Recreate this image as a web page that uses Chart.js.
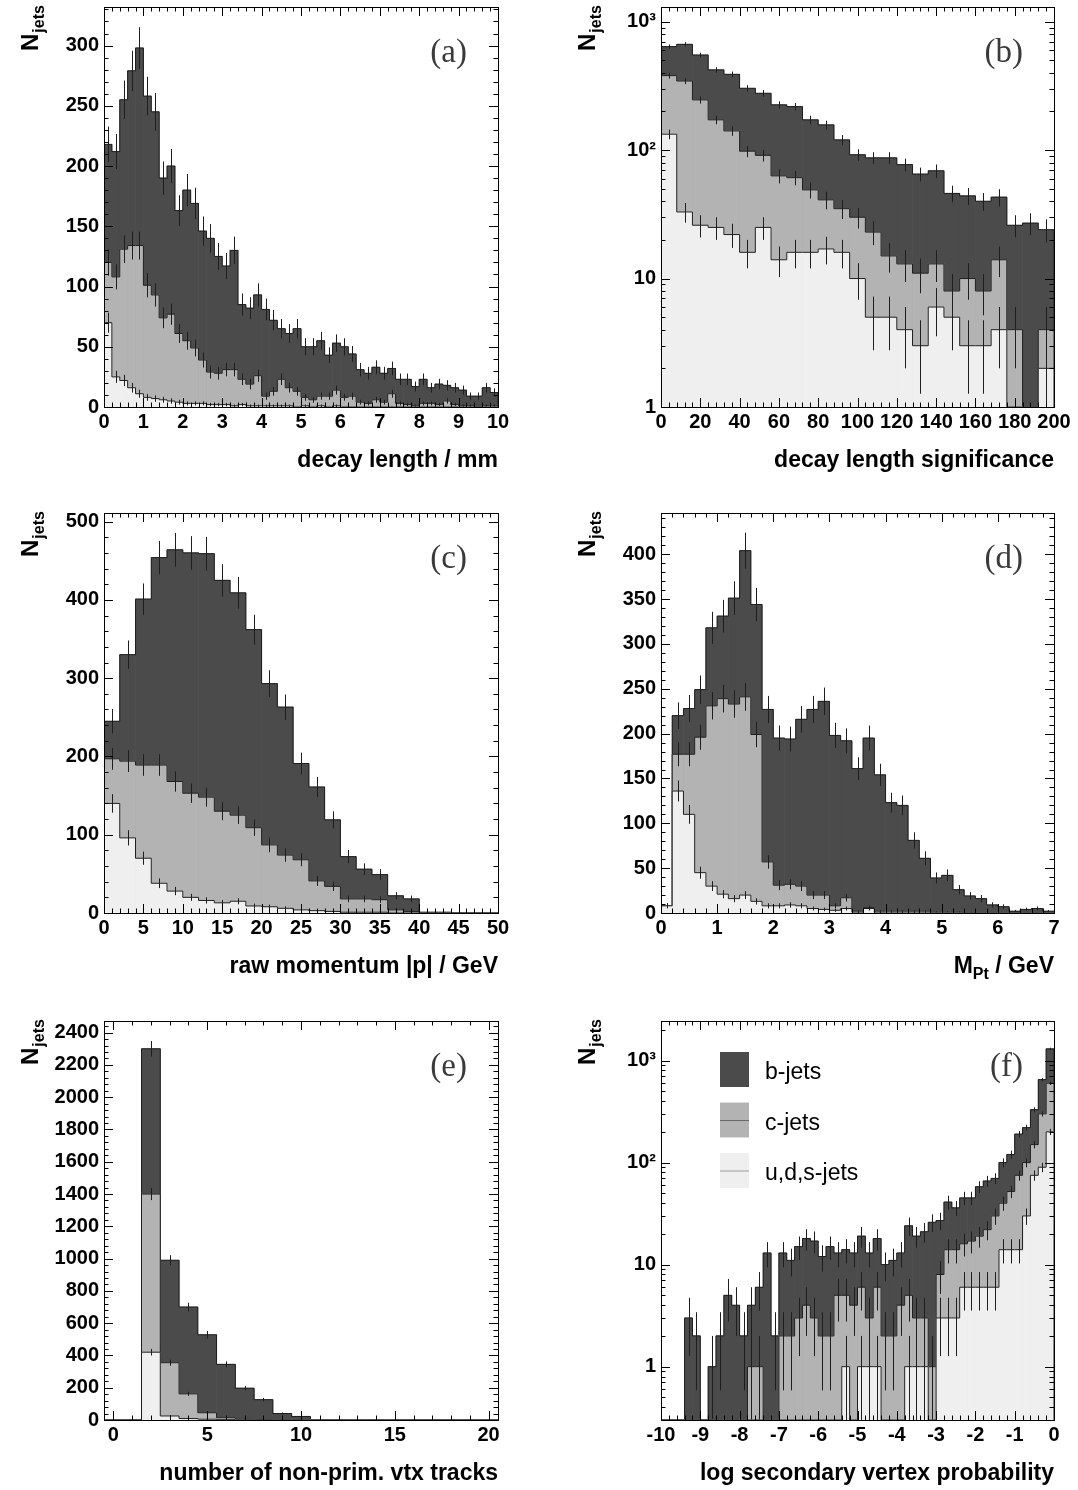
<!DOCTYPE html>
<html>
<head>
<meta charset="utf-8">
<script src="https://cdn.jsdelivr.net/npm/chart.js@4.4.1/dist/chart.umd.min.js"></script>
<style>
  html, body { margin: 0; padding: 0; background: #fff; }
  body { width: 1078px; height: 1490px; position: relative; overflow: hidden; }
  canvas { position: absolute; }
</style>
</head>
<body>
<canvas id="pa"></canvas>
<canvas id="pb"></canvas>
<canvas id="pc"></canvas>
<canvas id="pd"></canvas>
<canvas id="pe"></canvas>
<canvas id="pf"></canvas>
<script>
// ---- data: upper edge of each stacked layer (u,d,s | +c | +b = all jets) ----

// (a) decay length / mm, 50 bins of 0.2 from 0
const aBinLo = 0, aBinW = 0.2;
const aAll = [218,212,255,279,298,258,245,190,200,163, 180,169,146,140,125,117,130,85,82,93,
              81,72,65,61,65,50,50,55,43,53, 50,44,31,28,33,28,32,23,23,17,
              23,16,19,18,16,14,9,9,16,12];
const aC   = [120,108,131,134,134,101,93,74,77,61, 55,49,39,29,28,31,31,23,19,26,
              9,13,23,16,13,8,6,9,9,14, 8,9,4,3,6,4,11,3,2,1,
              3,3,2,5,2,1,1,0,1,1];
const aUds = [70,25,22,16,11,8,7,6,5,4, 3,3,3,2,2,2,1,2,1,1,
              1,1,1,1,0,1,0,1,0,1, 0,0,0,0,0,0,0,0,0,0,
              0,0,0,0,0,0,0,0,0,0];
const aTicksX = [0,1,2,3,4,5,6,7,8,9,10];
const aTicksY = [0,50,100,150,200,250,300];

// (b) decay length significance, 25 bins of 8 from 0
const bBinLo = 0, bBinW = 8;
const bAll = [639,666,550,421,389,303,277,225,218,172,157,120,92,87,87,77,65,69,46,44,40,43,26,27,24];
const bC   = [380,345,246,172,141,98,91,63,61,49,41,35,30,23,15,13,11,13,8,10,8,14,4,0,4];
const bUds = [133,33,26,25,22,16,25,14,16,16,17,16,10,5,5,4,3,6,5,3,3,4,0,0,2];
const bTicksX = [0,20,40,60,80,100,120,140,160,180,200];
const bTicksY = [1,10,100,1000];
const bTickLabelsY = ['1','10','10\u00b2','10\u00b3'];

// (c) raw momentum |p| / GeV, 25 bins of 2 from 0
const cBinLo = 0, cBinW = 2;
const cAll = [245,330,401,454,464,460,459,425,409,362,293,263,191,161,119,72,56,49,22,18,1,1,0,0,0];
const cC   = [197,194,189,189,168,153,148,130,125,109,87,74,68,41,34,18,18,17,4,2,0,0,0,0,0];
const cUds = [140,96,70,38,28,20,16,13,15,9,8,6,4,3,2,1,1,1,0,0,0,0,0,0,0];
const cTicksX = [0,5,10,15,20,25,30,35,40,45,50];
const cTicksY = [0,100,200,300,400,500];

// (d) M_Pt / GeV, 35 bins of 0.2 from 0
const dBinLo = 0, dBinW = 0.2;
const dAll = [8,220,228,249,318,331,351,404,344,227,195,194,216,227,236,198,192,161,195,154,
              123,120,81,61,39,42,26,19,16,9,7,2,4,5,2];
const dC   = [8,177,177,196,231,239,233,241,199,57,31,32,30,20,20,8,17,2,6,2,
              2,2,2,2,1,1,1,0,0,0,0,0,0,0,0];
const dUds = [8,136,110,45,30,21,16,20,13,8,8,9,8,5,4,3,5,1,5,1,
              1,1,1,1,0,0,0,0,0,0,0,0,0,0,0];
const dTicksX = [0,1,2,3,4,5,6,7];
const dTicksY = [0,50,100,150,200,250,300,350,400];

// (e) number of non-prim. vtx tracks, 21 bins of 1 from -0.5
const eBinLo = -0.5, eBinW = 1;
const eAll = [0,0,2300,990,700,528,345,197,126,40,22,0,0,0,0,0,0,0,0,0,0];
const eC   = [0,0,1400,355,162,45,14,6,3,1,1,0,0,0,0,0,0,0,0,0,0];
const eUds = [0,0,420,25,9,5,2,1,0,0,0,0,0,0,0,0,0,0,0,0,0];
const eTicksX = [0,5,10,15,20];
const eTicksY = [0,200,400,600,800,1000,1200,1400,1600,1800,2000,2200,2400];

// (f) log secondary vertex probability, 50 bins of 0.2 from -10
const fBinLo = -10, fBinW = 0.2;
const fAll = [0,0,0,3,2,0,1,2,5,4, 2,4,6,13,2,13,11,15,18,17,
              12,15,13,14,13,19,13,18,10,11, 13,24,19,21,26,27,41,36,45,45,
              58,66,70,100,120,190,220,330,650,1300];
const fC   = [0,0,0,0,0,0,0,0,0,0, 0,1,1,0,0,2,2,3,4,3,
              2,2,5,5,4,6,3,6,2,2, 4,5,3,3,1,8,14,14,16,17,
              19,22,30,40,52,75,100,150,300,600];
const fUds = [0,0,0,0,0,0,0,0,0,0, 0,0,0,0,0,0,0,0,0,0,
              0,0,0,1,0,1,1,1,0,0, 0,1,1,1,0,3,3,3,6,6,
              6,6,6,14,14,14,30,75,90,200];
const fTicksX = [-10,-9,-8,-7,-6,-5,-4,-3,-2,-1,0];
const fTicksY = [1,10,100,1000];
const fTickLabelsY = ['1','10','10\u00b2','10\u00b3'];

const seriesNames = ['u,d,s-jets', 'c-jets', 'b-jets'];

// ---- style ----
const SANS = "'Liberation Sans', Arial, Helvetica, sans-serif";
const SERIF = "'Liberation Serif', 'Times New Roman', serif";
const FILL = ['#efefef', '#b3b3b3', '#4b4b4b'];
const INK = '#1e1e1e';

function rootPlugin(cfg) {
  return {
    id: 'root_' + cfg.id,
    afterDatasetDraw(chart, args) {
      const {ctx, chartArea: ca, scales: {x, y}} = chart;
      const vals = cfg.layers[args.index];
      const px = v => x.getPixelForValue(v);
      const py = v => (v > 0 ? y.getPixelForValue(v) : ca.bottom);
      ctx.save();
      ctx.beginPath();
      ctx.rect(ca.left, ca.top, ca.right - ca.left, ca.bottom - ca.top);
      ctx.clip();
      ctx.strokeStyle = INK;
      ctx.lineWidth = 1;
      // step outline
      ctx.beginPath();
      ctx.moveTo(px(cfg.lo), ca.bottom);
      vals.forEach((v, i) => {
        ctx.lineTo(px(cfg.lo + i * cfg.bw), py(v));
        ctx.lineTo(px(cfg.lo + (i + 1) * cfg.bw), py(v));
      });
      ctx.lineTo(px(cfg.lo + vals.length * cfg.bw), ca.bottom);
      ctx.stroke();
      // statistical error bars
      ctx.beginPath();
      vals.forEach((v, i) => {
        if (v <= 0) return;
        const e = Math.sqrt(v);
        const xc = Math.round(px(cfg.lo + (i + 0.5) * cfg.bw)) + 0.5;
        const lo = v - e;
        ctx.moveTo(xc, y.getPixelForValue(v + e));
        ctx.lineTo(xc, lo > y.min ? y.getPixelForValue(lo) : ca.bottom);
      });
      ctx.stroke();
      ctx.restore();
    },
    afterDraw(chart) {
      const {ctx, chartArea: ca, scales: {x, y}} = chart;
      ctx.save();
      ctx.strokeStyle = '#000';
      ctx.lineWidth = 1;
      ctx.beginPath();
      // x ticks, bottom and top, pointing inwards
      for (let k = Math.ceil(x.min / cfg.xMinor - 1e-6); k * cfg.xMinor <= x.max + 1e-6; k++) {
        const v = k * cfg.xMinor;
        const q = v / cfg.xMajor;
        const len = Math.abs(q - Math.round(q)) < 1e-6 ? 9 : 4.5;
        const p = Math.round(x.getPixelForValue(v)) + 0.5;
        ctx.moveTo(p, ca.bottom); ctx.lineTo(p, ca.bottom - len);
        ctx.moveTo(p, ca.top); ctx.lineTo(p, ca.top + len);
      }
      // y ticks, left and right
      const yt = [];
      if (cfg.log) {
        for (let d = Math.floor(Math.log10(y.min)); d <= Math.ceil(Math.log10(y.max)); d++) {
          for (let m = 1; m <= 9; m++) {
            const v = m * Math.pow(10, d);
            if (v >= y.min * 0.999 && v <= y.max) yt.push([v, m === 1 ? 9 : 4.5]);
          }
        }
      } else {
        for (let k = 0; k * cfg.yMinor <= y.max + 1e-6; k++) {
          const v = k * cfg.yMinor;
          const q = v / cfg.yMajor;
          yt.push([v, Math.abs(q - Math.round(q)) < 1e-6 ? 9 : 4.5]);
        }
      }
      yt.forEach(([v, len]) => {
        const p = Math.round(y.getPixelForValue(v)) + 0.5;
        ctx.moveTo(ca.left, p); ctx.lineTo(ca.left + len, p);
        ctx.moveTo(ca.right, p); ctx.lineTo(ca.right - len, p);
      });
      ctx.stroke();
      // frame
      ctx.strokeRect(Math.round(ca.left) + 0.5, Math.round(ca.top) + 0.5,
                     Math.round(ca.right - ca.left), Math.round(ca.bottom - ca.top));

      // panel letter
      ctx.fillStyle = '#3a3a3a';
      ctx.font = `33px ${SERIF}`;
      ctx.textAlign = 'right';
      ctx.textBaseline = 'alphabetic';
      ctx.fillText(cfg.tag, ca.right - 31, ca.top + 55);

      // x title, right aligned at frame edge
      ctx.fillStyle = '#000';
      const segFont = s => (s ? `bold 16px ${SANS}` : `bold 23px ${SANS}`);
      let w = 0;
      cfg.xTitle.forEach(([t, s]) => { ctx.font = segFont(s); w += ctx.measureText(t).width; });
      let cx = ca.right - w;
      ctx.textAlign = 'left';
      cfg.xTitle.forEach(([t, s]) => {
        ctx.font = segFont(s);
        ctx.fillText(t, cx, ca.bottom + 60 + (s ? 6 : 0));
        cx += ctx.measureText(t).width;
      });

      // y title N_jets
      ctx.save();
      ctx.translate(ca.left - 66, ca.top + 44);
      ctx.rotate(-Math.PI / 2);
      ctx.font = `bold 24px ${SANS}`;
      ctx.fillText('N', 0, 0);
      const nw = ctx.measureText('N').width;
      ctx.font = `bold 16px ${SANS}`;
      ctx.fillText('jets', nw + 1, 6);
      ctx.restore();

      // legend
      if (cfg.legend) {
        const lineCol = [null, '#6a6a6a', '#9a9a9a'];
        [2, 1, 0].forEach((ds, k) => {
          const bx = ca.left + 59, by = ca.top + 31 + k * 50.5;
          ctx.fillStyle = FILL[ds];
          ctx.fillRect(bx, by, 29, 35);
          if (lineCol[k]) {
            ctx.strokeStyle = lineCol[k];
            ctx.beginPath();
            ctx.moveTo(bx, by + 18); ctx.lineTo(bx + 29, by + 18);
            ctx.stroke();
          }
          ctx.fillStyle = '#000';
          ctx.font = `23px ${SANS}`;
          ctx.fillText(seriesNames[ds], ca.left + 104, by + 27);
        });
      }
      ctx.restore();
    }
  };
}

function makePanel(cfg) {
  const cv = document.getElementById(cfg.id);
  cv.width = cfg.w; cv.height = cfg.h;
  cv.style.left = cfg.left + 'px'; cv.style.top = cfg.top + 'px';
  cv.style.width = cfg.w + 'px'; cv.style.height = cfg.h + 'px';
  const [L, T, R, B] = cfg.frame;
  const pts = arr => arr.map((v, i) => ({x: cfg.lo + (i + 0.5) * cfg.bw, y: v}));
  const tickFont = {family: SANS, size: 20, weight: 'bold', lineHeight: 1};

  new Chart(cv, {
    type: 'bar',
    data: {
      datasets: cfg.layers.map((arr, k) => ({
        label: seriesNames[k],
        data: pts(arr),
        backgroundColor: FILL[k],
        borderWidth: 0,
        grouped: false,
        barPercentage: 1,
        categoryPercentage: 1
      }))
    },
    options: {
      responsive: false,
      animation: false,
      devicePixelRatio: 1,
      events: [],
      layout: {padding: {left: 0, top: T, right: cfg.w - R, bottom: cfg.h - B - 40}},
      plugins: {legend: {display: false}, tooltip: {enabled: false}},
      scales: {
        x: {
          type: 'linear', min: cfg.xMin, max: cfg.xMax, offset: false,
          grid: {display: false, drawTicks: false}, border: {display: false},
          afterBuildTicks: s => { s.ticks = cfg.xTicks.map(v => ({value: v})); },
          afterFit: s => { s.height = 40; s.paddingLeft = 0; s.paddingRight = 0; },
          ticks: {autoSkip: false, maxRotation: 0, minRotation: 0, padding: 5,
                  color: '#000', font: tickFont, callback: v => String(v)}
        },
        y: {
          type: cfg.log ? 'logarithmic' : 'linear', min: cfg.yMin, max: cfg.yMax,
          grid: {display: false, drawTicks: false}, border: {display: false},
          afterBuildTicks: s => { s.ticks = cfg.yTicks.map(v => ({value: v})); },
          afterFit: s => { s.width = L; s.paddingTop = 0; s.paddingBottom = 0; },
          ticks: {autoSkip: false, padding: 5, color: '#000', font: tickFont,
                  callback: (v, i) => (cfg.yLabels ? cfg.yLabels[i] : String(v))}
        }
      }
    },
    plugins: [rootPlugin(cfg)]
  });
}

makePanel({id: 'pa', tag: '(a)', left: 0, top: 0, w: 540, h: 500, frame: [104, 7, 498, 407],
  lo: aBinLo, bw: aBinW, layers: [aUds, aC, aAll], xMin: 0, xMax: 10, xTicks: aTicksX, xMajor: 1, xMinor: 0.2,
  yMin: 0, yMax: 332, yTicks: aTicksY, yMajor: 50, yMinor: 10,
  xTitle: [['decay length / mm', 0]]});

makePanel({id: 'pb', tag: '(b)', left: 540, top: 0, w: 538, h: 500, frame: [121, 7, 514, 407],
  lo: bBinLo, bw: bBinW, layers: [bUds, bC, bAll], xMin: 0, xMax: 200, xTicks: bTicksX, xMajor: 20, xMinor: 4,
  log: true, yMin: 1, yMax: 1300, yTicks: bTicksY, yLabels: bTickLabelsY,
  xTitle: [['decay length significance', 0]]});

makePanel({id: 'pc', tag: '(c)', left: 0, top: 500, w: 540, h: 500, frame: [104, 13, 498, 413],
  lo: cBinLo, bw: cBinW, layers: [cUds, cC, cAll], xMin: 0, xMax: 50, xTicks: cTicksX, xMajor: 5, xMinor: 1,
  yMin: 0, yMax: 511, yTicks: cTicksY, yMajor: 100, yMinor: 20,
  xTitle: [['raw momentum |p| / GeV', 0]]});

makePanel({id: 'pd', tag: '(d)', left: 540, top: 500, w: 538, h: 500, frame: [121, 13, 514, 413],
  lo: dBinLo, bw: dBinW, layers: [dUds, dC, dAll], xMin: 0, xMax: 7, xTicks: dTicksX, xMajor: 1, xMinor: 0.2,
  yMin: 0, yMax: 446, yTicks: dTicksY, yMajor: 50, yMinor: 10,
  xTitle: [['M', 0], ['Pt', 1], [' / GeV', 0]]});

makePanel({id: 'pe', tag: '(e)', left: 0, top: 1000, w: 540, h: 490, frame: [104, 21, 498, 420],
  lo: eBinLo, bw: eBinW, layers: [eUds, eC, eAll], xMin: -0.5, xMax: 20.5, xTicks: eTicksX, xMajor: 5, xMinor: 1,
  yMin: 0, yMax: 2472, yTicks: eTicksY, yMajor: 200, yMinor: 40,
  xTitle: [['number of non-prim. vtx tracks', 0]]});

makePanel({id: 'pf', tag: '(f)', left: 540, top: 1000, w: 538, h: 490, frame: [121, 21, 514, 420],
  lo: fBinLo, bw: fBinW, layers: [fUds, fC, fAll], xMin: -10, xMax: 0, xTicks: fTicksX, xMajor: 1, xMinor: 0.2,
  log: true, yMin: 0.3, yMax: 2440, yTicks: fTicksY, yLabels: fTickLabelsY, legend: true,
  xTitle: [['log secondary vertex probability', 0]]});
</script>
</body>
</html>
